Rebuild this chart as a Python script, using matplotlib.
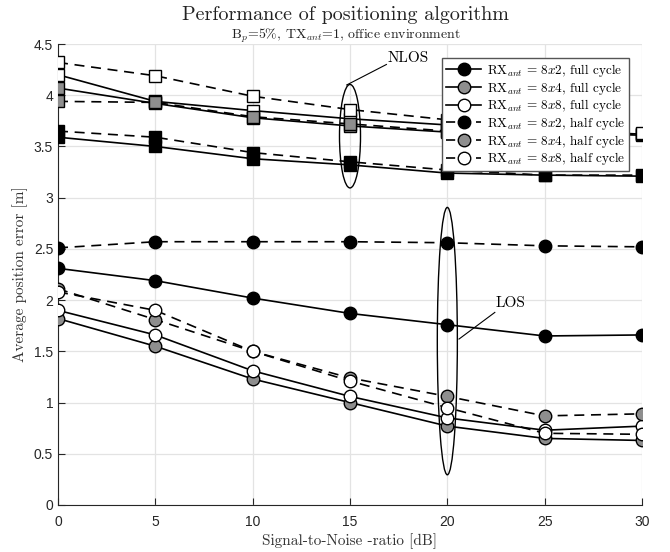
import matplotlib
matplotlib.use('Agg')
import matplotlib.pyplot as plt
from matplotlib.patches import Ellipse

plt.rcParams['mathtext.fontset'] = 'cm'
plt.rcParams['axes.unicode_minus'] = False

snr = [0, 5, 10, 15, 20, 25, 30]

# LOS (circles)
los_full_8x2 = [2.31, 2.19, 2.02, 1.87, 1.76, 1.65, 1.66]
los_full_8x4 = [1.82, 1.55, 1.23, 1.00, 0.77, 0.65, 0.63]
los_full_8x8 = [1.90, 1.66, 1.31, 1.06, 0.85, 0.73, 0.77]
los_half_8x2 = [2.51, 2.57, 2.57, 2.57, 2.56, 2.53, 2.52]
los_half_8x4 = [2.11, 1.81, 1.50, 1.24, 1.06, 0.87, 0.89]
los_half_8x8 = [2.08, 1.90, 1.50, 1.21, 0.95, 0.70, 0.69]

# NLOS (squares)
nlos_full_8x2 = [3.59, 3.50, 3.38, 3.32, 3.24, 3.22, 3.21]
nlos_full_8x4 = [4.07, 3.92, 3.78, 3.70, 3.64, 3.63, 3.61]
nlos_full_8x8 = [4.20, 3.94, 3.85, 3.77, 3.71, 3.66, 3.62]
nlos_half_8x2 = [3.65, 3.59, 3.44, 3.35, 3.27, 3.22, 3.22]
nlos_half_8x4 = [3.94, 3.93, 3.79, 3.72, 3.65, 3.63, 3.62]
nlos_half_8x8 = [4.32, 4.19, 3.99, 3.86, 3.76, 3.69, 3.63]

labels = [r'RX$_{ant}$ = 8$x$2, full cycle',
          r'RX$_{ant}$ = 8$x$4, full cycle',
          r'RX$_{ant}$ = 8$x$8, full cycle',
          r'RX$_{ant}$ = 8$x$2, half cycle',
          r'RX$_{ant}$ = 8$x$4, half cycle',
          r'RX$_{ant}$ = 8$x$8, half cycle']

gris = '#8e8e8e'
caras = ['black', gris, 'white', 'black', gris, 'white']
estilos = ['-', '-', '-', (0, (6, 4)), (0, (6, 4)), (0, (6, 4))]

fig = plt.figure(figsize=(6.7, 5.52), dpi=100)
ax = fig.add_axes([58/670, 1-505/552, 584/670, 461/552])

# NLOS series
nlos = [nlos_full_8x2, nlos_full_8x4, nlos_full_8x8, nlos_half_8x2, nlos_half_8x4, nlos_half_8x8]
for ys, fc, ls in zip(nlos, caras, estilos):
    ax.plot(snr, ys, color='black', ls=ls, lw=1.2, marker='s', ms=8.5,
            mfc=fc, mec='black', mew=1.0, label='_nolegend_', zorder=3)

# LOS series
los = [los_full_8x2, los_full_8x4, los_full_8x8, los_half_8x2, los_half_8x4, los_half_8x8]
for ys, fc, ls, lab in zip(los, caras, estilos, labels):
    ax.plot(snr, ys, color='black', ls=ls, lw=1.2, marker='o', ms=9,
            mfc=fc, mec='black', mew=1.0, label=lab, zorder=3)

# Elipses y anotaciones
ax.add_patch(Ellipse((15, 3.60), 1.08, 1.01, fill=False, ec='black', lw=1.0, zorder=4))
ax.add_patch(Ellipse((20, 1.60), 1.03, 2.61, fill=False, ec='black', lw=1.0, zorder=4))
ax.plot([14.83, 16.87], [4.10, 4.30], color='black', lw=0.8)
ax.text(17.98, 4.36, 'NLOS', family='cmr10', fontsize=11, ha='center', va='center')
ax.plot([20.6, 22.44], [1.62, 1.88], color='black', lw=0.8)
ax.text(22.5, 1.97, 'LOS', family='cmr10', fontsize=11, ha='left', va='center')

ax.set_xlim(0, 30)
ax.set_ylim(0, 4.5)
ax.set_xticks(snr)
ax.set_yticks([0, 0.5, 1, 1.5, 2, 2.5, 3, 3.5, 4, 4.5])
ax.set_yticklabels(['0', '0.5', '1', '1.5', '2', '2.5', '3', '3.5', '4', '4.5'])
ax.grid(True, color='#e3e3e3', lw=0.9)
ax.set_axisbelow(True)
for s in ['top', 'right']:
    ax.spines[s].set_visible(False)
for s in ['left', 'bottom']:
    ax.spines[s].set_color('#262626')
ax.tick_params(direction='in', length=5, colors='#262626', labelsize=10)
for t in ax.get_xticklabels() + ax.get_yticklabels():
    t.set_family('Liberation Sans')
ax.tick_params(axis='x', pad=7)

ax.set_xlabel('Signal-to-Noise -ratio [dB]', family='cmr10', fontsize=11, labelpad=3, color='#333333')
ax.set_ylabel('Average position error [m]', family='cmr10', fontsize=11, labelpad=4, color='#333333')

fig.text(346/670, 1-15/552, 'Performance of positioning algorithm', family='cmr10',
         fontsize=14.5, ha='center', va='center', color='#222222')
fig.text(346/670, 1-36/552, r'B$_p$=5%, TX$_{ant}$=1, office environment', family='cmr10',
         fontsize=10, ha='center', va='center', color='#222222')

leg = ax.legend(loc='upper right', bbox_to_anchor=(629/670, 1-58/552),
                bbox_transform=fig.transFigure, prop={'family': 'cmr10', 'size': 9.5},
                fancybox=False, framealpha=1, edgecolor='#555555',
                labelspacing=0.05, handlelength=2.7, handletextpad=0.4,
                borderpad=0.3, borderaxespad=0)
leg.get_frame().set_linewidth(1.0)
# trazos de la leyenda: guion - marcador - guion
for linea in leg.get_lines()[3:]:
    linea.set_linestyle((0, (5.5, 3.5)))

fig.savefig('out.png', dpi=100)
